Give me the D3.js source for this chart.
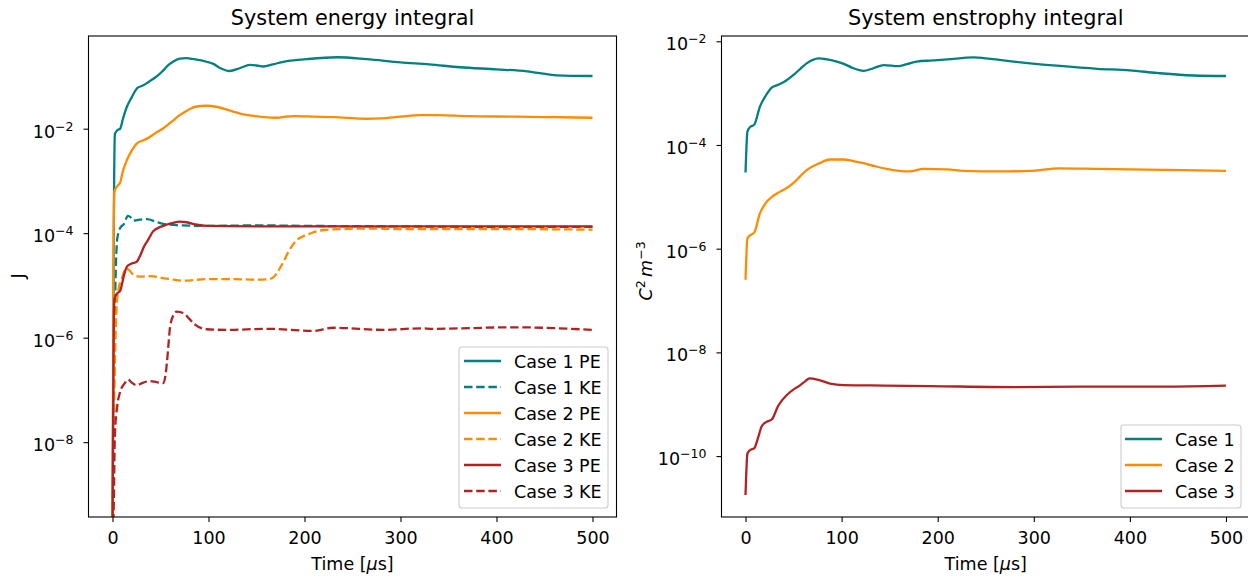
<!DOCTYPE html>
<html><head><meta charset="utf-8">
<script src="https://cdn.jsdelivr.net/npm/d3@7"></script>
<style>
body{margin:0;background:#fff}
text{font-family:"DejaVu Sans",sans-serif;fill:#000}
</style>
</head><body>
<svg id="chart" width="1248" height="582"></svg>
<script>
// ---------------- data ----------------
const xTicks = [0, 100, 200, 300, 400, 500];
const energyYTicks = [1e-2, 1e-4, 1e-6, 1e-8];
const enstrophyYTicks = [1e-2, 1e-4, 1e-6, 1e-8, 1e-10];

const energyTitle = "System energy integral";
const enstrophyTitle = "System enstrophy integral";
const energyLegend = ["Case 1 PE", "Case 1 KE", "Case 2 PE", "Case 2 KE", "Case 3 PE", "Case 3 KE"];
const enstrophyLegend = ["Case 1", "Case 2", "Case 3"];

// [time (us), value]
const case1PE = [[0,1e-10],[1.5,3.16e-4],[2.5,7.94e-3],[5,9.33e-3],[8,1.0e-2],[11,1.58e-2],[15,2.63e-2],[20,3.98e-2],[26,6.03e-2],[31,6.61e-2],[38,7.94e-2],[46,0.1],[52,0.126],[57,0.158],[63,0.191],[70,0.219],[77,0.225],[85,0.214],[98,0.191],[105,0.174],[112,0.145],[122,0.127],[133,0.145],[143,0.166],[150,0.162],[157,0.155],[167,0.170],[178,0.191],[202,0.214],[234,0.233],[265,0.214],[300,0.186],[330,0.170],[362,0.150],[400,0.137],[432,0.125],[463,0.105],[500,0.102]];
const case1KE = [[0,1e-10],[2,1e-6],[3,1e-5],[5,7.94e-5],[8,1.26e-4],[12,1.51e-4],[16,2.14e-4],[19,2.0e-4],[22,1.74e-4],[28,1.82e-4],[36,1.86e-4],[45,1.66e-4],[53,1.51e-4],[62,1.45e-4],[70,1.41e-4],[100,1.38e-4],[150,1.41e-4],[200,1.38e-4],[300,1.35e-4],[400,1.32e-4],[500,1.32e-4]];
const case2PE = [[0,1e-10],[1,3.16e-5],[2,6.31e-4],[5,7.94e-4],[8,9.33e-4],[11,1.58e-3],[15,2.51e-3],[20,3.80e-3],[26,5.37e-3],[31,5.89e-3],[36,6.46e-3],[45,8.32e-3],[53,1.02e-2],[62,1.38e-2],[70,1.82e-2],[78,2.24e-2],[86,2.63e-2],[98,2.75e-2],[108,2.63e-2],[120,2.29e-2],[133,1.95e-2],[145,1.78e-2],[158,1.66e-2],[172,1.62e-2],[180,1.70e-2],[190,1.74e-2],[210,1.70e-2],[230,1.66e-2],[265,1.55e-2],[280,1.58e-2],[300,1.70e-2],[321,1.82e-2],[340,1.82e-2],[370,1.74e-2],[420,1.70e-2],[460,1.66e-2],[500,1.62e-2]];
const case2KE = [[0,1e-10],[2,1e-7],[4,3.16e-6],[6,7.94e-6],[10,1.41e-5],[14,2.09e-5],[17,2.0e-5],[22,1.58e-5],[28,1.48e-5],[40,1.51e-5],[50,1.41e-5],[60,1.32e-5],[74,1.23e-5],[98,1.32e-5],[126,1.32e-5],[150,1.29e-5],[163,1.32e-5],[168,1.45e-5],[172,1.82e-5],[178,2.82e-5],[184,4.68e-5],[192,7.41e-5],[200,8.91e-5],[208,1.02e-4],[220,1.15e-4],[240,1.20e-4],[265,1.23e-4],[300,1.20e-4],[400,1.20e-4],[500,1.17e-4]];
const case3PE = [[0,1e-10],[1,3.16e-7],[2,5.62e-6],[5,7.08e-6],[8,7.94e-6],[12,1.58e-5],[15,2.29e-5],[20,2.63e-5],[25,2.82e-5],[29,3.80e-5],[33,5.62e-5],[38,7.94e-5],[42,1.07e-4],[50,1.32e-4],[56,1.45e-4],[63,1.58e-4],[70,1.66e-4],[77,1.62e-4],[88,1.45e-4],[98,1.38e-4],[150,1.35e-4],[250,1.35e-4],[350,1.35e-4],[500,1.35e-4]];
const case3KE = [[0,1e-10],[1.5,1e-9],[2.4,1.26e-8],[5,5.01e-8],[7.6,8.71e-8],[12.8,1.35e-7],[16.3,1.58e-7],[20,1.38e-7],[25,1.23e-7],[32,1.38e-7],[39,1.48e-7],[46,1.41e-7],[53,1.35e-7],[56,2.51e-7],[58,6.31e-7],[60,1.62e-6],[64,2.82e-6],[67,3.16e-6],[74,2.95e-6],[80,2.29e-6],[86,1.78e-6],[98,1.45e-6],[119,1.41e-6],[161,1.48e-6],[209,1.35e-6],[230,1.55e-6],[283,1.41e-6],[321,1.51e-6],[334,1.48e-6],[418,1.58e-6],[500,1.41e-6]];

const case1Ens = [[0,2.95e-5],[2,1.82e-4],[5,2.24e-4],[9,2.45e-4],[15,5.50e-4],[21,8.91e-4],[27.5,1.29e-3],[34,1.45e-3],[42,1.74e-3],[50,2.24e-3],[57,2.95e-3],[64,3.80e-3],[70,4.37e-3],[76,4.68e-3],[85,4.47e-3],[95,4.07e-3],[103,3.63e-3],[111,3.09e-3],[123,2.69e-3],[133,3.02e-3],[144,3.47e-3],[159,3.31e-3],[168,3.63e-3],[178,4.07e-3],[195,4.27e-3],[210,4.47e-3],[237,4.90e-3],[255,4.57e-3],[279,4.07e-3],[324,3.39e-3],[366,2.95e-3],[400,2.75e-3],[428,2.45e-3],[466,2.19e-3],[500,2.14e-3]];
const case2Ens = [[0,2.51e-7],[2,1.58e-6],[5,1.82e-6],[9,2.04e-6],[15,4.79e-6],[21,7.59e-6],[27.5,1.0e-5],[34,1.20e-5],[42,1.45e-5],[50,1.86e-5],[57,2.51e-5],[64,3.31e-5],[76,4.37e-5],[88,5.25e-5],[102,5.25e-5],[112,4.90e-5],[123,4.47e-5],[135,3.89e-5],[147,3.47e-5],[160,3.16e-5],[171,3.09e-5],[185,3.47e-5],[210,3.39e-5],[227,3.16e-5],[265,3.09e-5],[296,3.16e-5],[327,3.55e-5],[366,3.47e-5],[435,3.31e-5],[500,3.16e-5]];
const case3Ens = [[0,1.78e-11],[2,1.12e-10],[5,1.32e-10],[9,1.41e-10],[13,2.24e-10],[17,3.80e-10],[22,4.57e-10],[27.5,5.13e-10],[34,9.33e-10],[43,1.51e-9],[52,2.04e-9],[57,2.34e-9],[62,2.75e-9],[66.5,3.16e-9],[76,2.95e-9],[88,2.51e-9],[102,2.34e-9],[144,2.29e-9],[192,2.24e-9],[279,2.14e-9],[348,2.19e-9],[435,2.19e-9],[500,2.29e-9]];

// ---------------- drawing ----------------
const TEAL = "#008080", ORANGE = "#ff8c00", RED = "#b22222";
const LW = 2.3, DASH = "8.5,3.7";
const FS = "17.5px", FS_SUP = "12.5px", FS_TITLE = "20.8px";
const svg = d3.select("#chart");

function panel(opts) {
  const {x0, x1, y0, y1, yDomain, yTicks, series, title, clipId} = opts;
  const g = svg.append("g");
  const x = d3.scaleLinear().domain([-25, 525]).range([x0, x1]);
  const y = d3.scaleLog().domain(yDomain).range([y1, y0]);

  svg.append("defs").append("clipPath").attr("id", clipId)
    .append("rect").attr("x", x0).attr("y", y0).attr("width", x1 - x0).attr("height", y1 - y0);

  const line = d3.line().x(d => x(d[0])).y(d => y(d[1])).curve(d3.curveMonotoneX);
  const lines = g.append("g").attr("clip-path", `url(#${clipId})`);
  series.forEach(s => {
    lines.append("path").datum(s.data).attr("d", line)
      .attr("fill", "none").attr("stroke", s.color).attr("stroke-width", LW)
      .attr("stroke-linejoin", "round")
      .attr("stroke-dasharray", s.dashed ? DASH : null);
  });

  // x axis
  const xa = g.append("g").attr("transform", `translate(0,${y1})`)
    .call(d3.axisBottom(x).tickValues(xTicks).tickSize(5).tickFormat(d3.format("d")));
  xa.select(".domain").remove();
  xa.selectAll("line").attr("stroke-width", 1.1);
  xa.selectAll("text").attr("font-size", FS).attr("font-family", "DejaVu Sans").attr("fill", "#000")
    .attr("y", 27).attr("dy", null);

  // y axis (log) with 10^{n} labels
  const ya = g.append("g").attr("transform", `translate(${x0},0)`)
    .call(d3.axisLeft(y).tickValues(yTicks).tickSize(5).tickFormat(""));
  ya.select(".domain").remove();
  ya.selectAll("line").attr("stroke-width", 1.1);
  ya.selectAll(".tick").each(function(d) {
    const e = Math.round(Math.log10(d));
    const t = d3.select(this).select("text").attr("x", -15).attr("y", 8.4).attr("dy", null)
      .attr("text-anchor", "end").attr("font-family", "DejaVu Sans").attr("fill", "#000");
    t.append("tspan").attr("font-size", FS).text("10");
    t.append("tspan").attr("font-size", FS_SUP).attr("dy", "-7").text("\u2212" + Math.abs(e));
  });

  // frame
  g.append("rect").attr("x", x0).attr("y", y0).attr("width", x1 - x0).attr("height", y1 - y0)
    .attr("fill", "none").attr("stroke", "#000").attr("stroke-width", 1.1);

  // title
  g.append("text").attr("x", (x0 + x1) / 2).attr("y", 25).attr("text-anchor", "middle")
    .attr("font-size", FS_TITLE).text(title);

  // xlabel
  const xl = g.append("text").attr("x", (x0 + x1) / 2).attr("y", 570).attr("text-anchor", "middle").attr("font-size", FS);
  xl.append("tspan").text("Time [");
  xl.append("tspan").attr("font-style", "italic").text("\u03bc");
  xl.append("tspan").text("s]");
  return {g, x, y};
}

panel({
  x0: 88.5, x1: 616.5, y0: 36, y1: 517,
  yDomain: [Math.pow(10, -9.432), Math.pow(10, -0.226)],
  yTicks: energyYTicks, title: energyTitle, clipId: "clipL",
  series: [
    {data: case1PE, color: TEAL},
    {data: case1KE, color: TEAL, dashed: true},
    {data: case2PE, color: ORANGE},
    {data: case2KE, color: ORANGE, dashed: true},
    {data: case3PE, color: RED},
    {data: case3KE, color: RED, dashed: true}
  ]
});
panel({
  x0: 721.5, x1: 1250, y0: 36, y1: 517,
  yDomain: [Math.pow(10, -11.175), Math.pow(10, -1.898)],
  yTicks: enstrophyYTicks, title: enstrophyTitle, clipId: "clipR",
  series: [
    {data: case1Ens, color: TEAL},
    {data: case2Ens, color: ORANGE},
    {data: case3Ens, color: RED}
  ]
});

// y labels
svg.append("text").attr("transform", "translate(24,276) rotate(-90)").attr("text-anchor", "middle")
  .attr("font-size", FS).text("J");
const yl = svg.append("text").attr("transform", "translate(652,271) rotate(-90)").attr("text-anchor", "middle").attr("font-size", FS);
yl.append("tspan").attr("font-style", "italic").text("C");
yl.append("tspan").attr("font-size", FS_SUP).attr("dy", "-7").text("2");
yl.append("tspan").attr("dy", "7").text("\u2009");
yl.append("tspan").attr("font-style", "italic").text("m");
yl.append("tspan").attr("font-size", FS_SUP).attr("dy", "-7").text("\u22123");

// legends
function legend(x, y, w, h, items, handleX0, handleX1, textX, firstY) {
  const lg = svg.append("g");
  lg.append("rect").attr("x", x).attr("y", y).attr("width", w).attr("height", h).attr("rx", 3)
    .attr("fill", "#fff").attr("fill-opacity", 0.8).attr("stroke", "#cccccc").attr("stroke-width", 1.1);
  items.forEach((it, i) => {
    const cy = firstY + i * 26;
    lg.append("line").attr("x1", handleX0).attr("x2", handleX1).attr("y1", cy).attr("y2", cy)
      .attr("stroke", it.color).attr("stroke-width", LW).attr("stroke-dasharray", it.dashed ? DASH : null);
    lg.append("text").attr("x", textX).attr("y", cy + 6.5).attr("font-size", FS).text(it.label);
  });
}
legend(459, 347, 149, 161, [
  {label: energyLegend[0], color: TEAL}, {label: energyLegend[1], color: TEAL, dashed: true},
  {label: energyLegend[2], color: ORANGE}, {label: energyLegend[3], color: ORANGE, dashed: true},
  {label: energyLegend[4], color: RED}, {label: energyLegend[5], color: RED, dashed: true}
], 464, 501, 514, 361);
legend(1121, 425, 120, 83, [
  {label: enstrophyLegend[0], color: TEAL}, {label: enstrophyLegend[1], color: ORANGE}, {label: enstrophyLegend[2], color: RED}
], 1125, 1162, 1175, 439);
</script>
</body></html>
